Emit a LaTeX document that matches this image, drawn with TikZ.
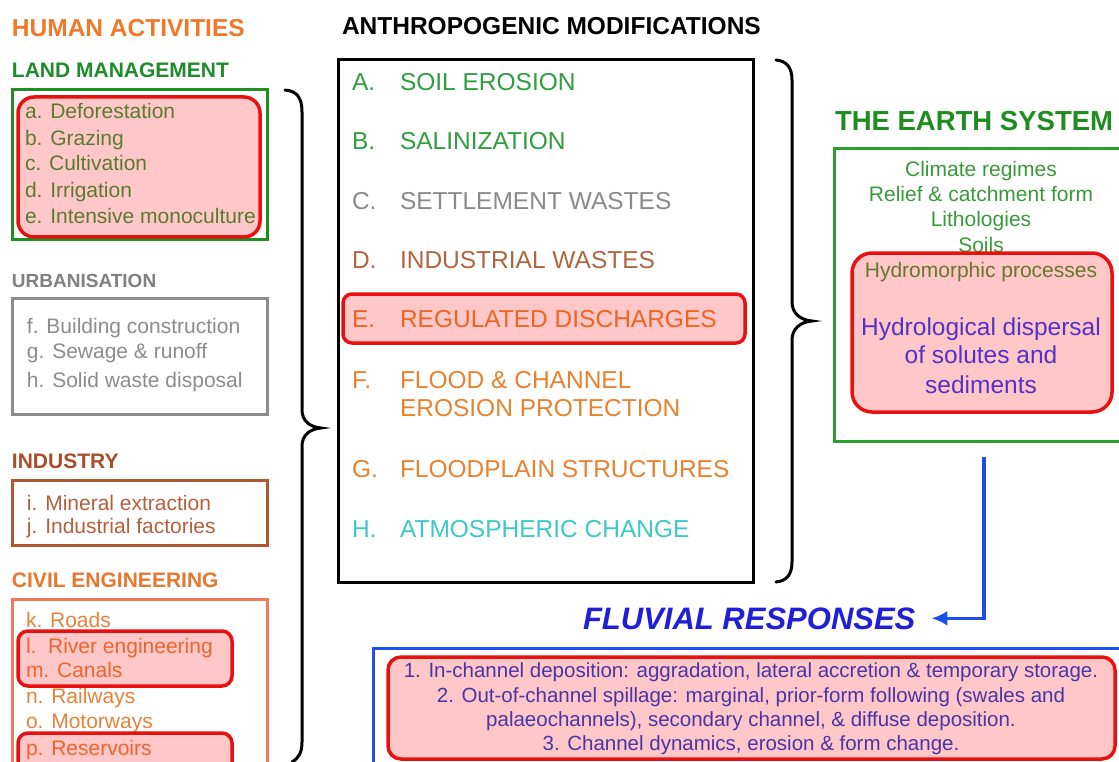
\documentclass[tikz,border=0pt]{standalone}
\usepackage{fontspec}
\setmainfont{Liberation Sans}
\usetikzlibrary{arrows.meta}

\definecolor{actorange}{HTML}{F07828}
\definecolor{landgreen}{HTML}{1E8C2A}
\definecolor{landframe}{HTML}{1F8F1F}
\definecolor{itemgreen}{HTML}{2E9E3E}
\definecolor{urbgray}{HTML}{808080}
\definecolor{urbframe}{HTML}{8C8C8C}
\definecolor{indbrown}{HTML}{A84E2C}
\definecolor{indframe}{HTML}{B0582E}
\definecolor{inditem}{HTML}{B5603A}
\definecolor{civorange}{HTML}{E8772E}
\definecolor{civframe}{HTML}{F07A5A}
\definecolor{civitem}{HTML}{E8823A}
\definecolor{modbrown}{HTML}{B0653F}
\definecolor{modorange}{HTML}{E8822E}
\definecolor{modcyan}{HTML}{3CC8C8}
\definecolor{modgray}{HTML}{8A8A8A}
\definecolor{earthgreen}{HTML}{1E8C1E}
\definecolor{earthframe}{HTML}{2CA02C}
\definecolor{earthtext}{HTML}{3A9A3A}
\definecolor{hydroblue}{HTML}{2541FF}
\definecolor{arrowblue}{HTML}{1A4FE8}
\definecolor{fluvtitle}{HTML}{1F1FD8}
\definecolor{fluvframe}{HTML}{2050F0}
\definecolor{fluvtext}{HTML}{1744D7}
\definecolor{hired}{HTML}{E81010}

\newcommand\myfs[1]{\fontsize{#1pt}{#1pt}\selectfont}

\begin{document}
\begin{tikzpicture}[x=1pt,y=-1pt,
  txt/.style={anchor=base west, inner sep=0pt, outer sep=0pt},
  ctxt/.style={anchor=base, inner sep=0pt, outer sep=0pt},
  heading/.style={txt, font=\bfseries\myfs{21}},
  item/.style={txt, font=\myfs{21}},
  moditem/.style={txt, font=\myfs{24.5}},
  fluvitem/.style={ctxt, font=\myfs{20.5}, text=fluvtext},
  hilite/.style={draw=hired, line width=3.5pt, fill=red, fill opacity=0.22},
  frame/.style={line width=3pt},
  bracket/.style={draw=black, line width=3pt, line cap=round}
]
\useasboundingbox (0,0) rectangle (1119,762);
\fill[white] (0,0) rectangle (1119,762);

% ---------------- Human activities ----------------
\node[txt, font=\bfseries\myfs{24.5}, text=actorange] (hum) at (12,37) {HUMAN ACTIVITIES};

\node[heading, text=landgreen] (landh) at (12,78) {LAND MANAGEMENT};
\draw[frame, draw=landframe] (12.5,90) rectangle (267,240);
\node[item, text=itemgreen] (la) at (25,119) {a. Deforestation};
\node[item, text=itemgreen] (lb) at (25,146) {b. Grazing};
\node[item, text=itemgreen] (lc) at (25,171) {c. Cultivation};
\node[item, text=itemgreen] (ld) at (25,198) {d. Irrigation};
\node[item, text=itemgreen] (le) at (25,223) {e. Intensive monoculture};
\draw[hilite, rounded corners=16pt] (18,97) rectangle (260,237);

\node[txt, font=\bfseries\myfs{19}, text=urbgray] (urbh) at (12,287) {URBANISATION};
\draw[frame, draw=urbframe] (12.5,298) rectangle (267,414);
\node[item, text=urbframe] (uf) at (27,333) {f. Building construction};
\node[item, text=urbframe] (ug) at (27,358) {g. Sewage \& runoff};
\node[item, text=urbframe] (uh) at (27,387) {h. Solid waste disposal};

\node[heading, text=indbrown] (indh) at (12,468) {INDUSTRY};
\draw[frame, draw=indframe] (12.5,480) rectangle (267,545);
\node[item, text=inditem] (ii) at (27,510) {i. Mineral extraction};
\node[item, text=inditem] (ij) at (27,533) {j. Industrial factories};

\node[heading, text=civorange] (civh) at (12,587) {CIVIL ENGINEERING};
\draw[frame, draw=civframe] (12.5,599) rectangle (267,790);
\node[item, text=civitem] (ck) at (26,627) {k. Roads};
\node[item, text=civitem] (cl) at (26,653) {l.\ \ River engineering};
\node[item, text=civitem] (cm) at (26,677) {m. Canals};
\node[item, text=civitem] (cn) at (26,703) {n. Railways};
\node[item, text=civitem] (co) at (26,728) {o. Motorways};
\node[item, text=civitem] (cp) at (26,755) {p. Reservoirs};
\draw[hilite, rounded corners=10pt] (18,631) rectangle (232,686);
\draw[hilite, rounded corners=10pt] (18,733) rectangle (232,780);

% left bracket gathering the activities
\draw[bracket] (285,90) .. controls (297,91) and (302,98) .. (302,112)
  -- (302,410) .. controls (302,421) and (310,427) .. (321,428)
  .. controls (310,429) and (302,435) .. (302,446)
  -- (302,742) .. controls (302,752) and (299,758) .. (292,762);

% ---------------- Anthropogenic modifications ----------------
\node[txt, font=\bfseries\myfs{24.5}] (modh) at (342,35) {ANTHROPOGENIC MODIFICATIONS};
\draw[frame, draw=black] (338.5,60) rectangle (753,582);

\node[moditem, text=itemgreen] (mA) at (352,91) {A.};
\node[moditem, text=itemgreen] (mAt) at (400,91) {SOIL EROSION};
\node[moditem, text=itemgreen] (mB) at (352,150) {B.};
\node[moditem, text=itemgreen] (mBt) at (400,150) {SALINIZATION};
\node[moditem, text=modgray] (mC) at (352,210) {C.};
\node[moditem, text=modgray] (mCt) at (400,210) {SETTLEMENT WASTES};
\node[moditem, text=modbrown] (mD) at (352,268) {D.};
\node[moditem, text=modbrown] (mDt) at (400,268) {INDUSTRIAL WASTES};
\node[moditem, text=modorange] (mE) at (352,327) {E.};
\node[moditem, text=modorange] (mEt) at (400,327) {REGULATED DISCHARGES};
\node[moditem, text=modorange] (mF) at (352,388) {F.};
\node[moditem, text=modorange] (mFt) at (400,388) {FLOOD \& CHANNEL};
\node[moditem, text=modorange] (mFu) at (400,416) {EROSION PROTECTION};
\node[moditem, text=modorange] (mG) at (352,477) {G.};
\node[moditem, text=modorange] (mGt) at (400,477) {FLOODPLAIN STRUCTURES};
\node[moditem, text=modcyan] (mH) at (352,537) {H.};
\node[moditem, text=modcyan] (mHt) at (400,537) {ATMOSPHERIC CHANGE};
\draw[hilite, rounded corners=9pt] (343,294) rectangle (745,343);

% right bracket gathering the modifications
\draw[bracket] (776,60) .. controls (787,61) and (792,68) .. (792,80)
  -- (792,302) .. controls (792,313) and (800,320) .. (812,321)
  .. controls (800,322) and (792,329) .. (792,340)
  -- (792,562) .. controls (792,574) and (787,581) .. (776,582);

% ---------------- The Earth system ----------------
\node[txt, font=\bfseries\myfs{27.5}, text=earthgreen] (earthh) at (835,131) {THE EARTH SYSTEM};
\node[draw=earthframe, line width=3pt, anchor=north west, inner sep=0pt,
      minimum width=300pt, minimum height=293pt] (earth) at (832.5,147) {};
\node[ctxt, font=\myfs{21}, text=earthtext] (e1) at (981,177) {Climate regimes};
\node[ctxt, font=\myfs{21}, text=earthtext] (e2) at (981,202) {Relief \& catchment form};
\node[ctxt, font=\myfs{21}, text=earthtext] (e3) at (981,227) {Lithologies};
\node[ctxt, font=\myfs{21}, text=earthtext] (e4) at (981,252) {Soils};
\node[ctxt, font=\myfs{21}, text=earthtext] (e5) at (981,277) {Hydromorphic processes};
\node[ctxt, font=\myfs{24.5}, text=hydroblue] (e6) at (981,335) {Hydrological dispersal};
\node[ctxt, font=\myfs{24.5}, text=hydroblue] (e7) at (981,363) {of solutes and};
\node[ctxt, font=\myfs{24.5}, text=hydroblue] (e8) at (981,393) {sediments};
\draw[hilite, rounded corners=20pt] (852,253) rectangle (1112,412);

% ---------------- Fluvial responses ----------------
\node[txt, font=\bfseries\itshape\myfs{31}, text=fluvtitle] (flu) at (583,629) {FLUVIAL RESPONSES};
\draw[draw=arrowblue, line width=3.2pt, -{Latex[length=16pt,width=15pt]}]
  ([yshift=-14pt]earth.south) |- ([xshift=16pt]flu.east);

\draw[frame, draw=fluvframe] (373.5,648) rectangle (1140,790);
\node[fluvitem] (f1) at (751,677) {1. In-channel deposition: aggradation, lateral accretion \& temporary storage.};
\node[fluvitem] (f2) at (751,702) {2. Out-of-channel spillage: marginal, prior-form following (swales and};
\node[fluvitem] (f3) at (751,726) {palaeochannels), secondary channel, \& diffuse deposition.};
\node[fluvitem] (f4) at (751,750) {3. Channel dynamics, erosion \& form change.};
\draw[hilite, rounded corners=13pt] (388,657) rectangle (1115,759);
\end{tikzpicture}
\end{document}
